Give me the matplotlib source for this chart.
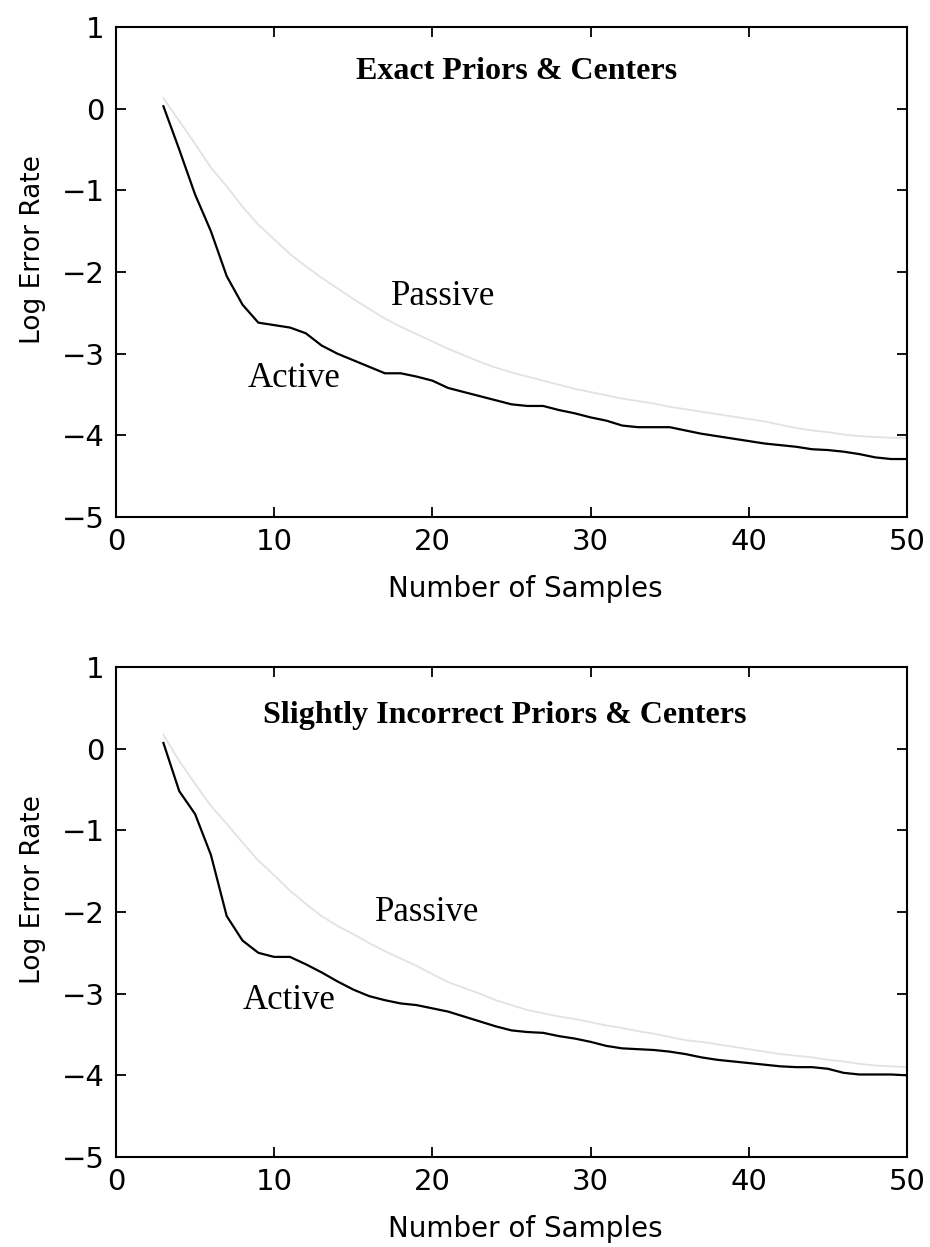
import matplotlib
matplotlib.use('Agg')
from matplotlib import pyplot as plt

# samples 3..50
samples = list(range(3, 51))

top_active = [0.03, -0.50, -1.05, -1.50, -2.05, -2.40, -2.62, -2.65, -2.68, -2.75,
              -2.90, -3.00, -3.08, -3.16, -3.24, -3.24, -3.28, -3.33, -3.42, -3.47,
              -3.52, -3.57, -3.62, -3.64, -3.64, -3.69, -3.73, -3.78, -3.82, -3.88,
              -3.90, -3.90, -3.90, -3.94, -3.98, -4.01, -4.04, -4.07, -4.10, -4.12,
              -4.14, -4.17, -4.18, -4.20, -4.23, -4.27, -4.29, -4.29]
top_passive = [0.13, -0.15, -0.43, -0.72, -0.95, -1.20, -1.42, -1.60, -1.78, -1.93,
               -2.07, -2.20, -2.33, -2.45, -2.57, -2.67, -2.76, -2.85, -2.94, -3.02,
               -3.10, -3.17, -3.23, -3.28, -3.33, -3.38, -3.43, -3.47, -3.51, -3.55,
               -3.58, -3.61, -3.65, -3.68, -3.71, -3.74, -3.77, -3.80, -3.83, -3.87,
               -3.91, -3.94, -3.96, -3.99, -4.01, -4.02, -4.03, -4.03]

bot_active = [0.07, -0.52, -0.80, -1.30, -2.05, -2.35, -2.50, -2.55, -2.55, -2.64,
              -2.74, -2.85, -2.95, -3.03, -3.08, -3.12, -3.14, -3.18, -3.22, -3.28,
              -3.34, -3.40, -3.45, -3.47, -3.48, -3.52, -3.55, -3.59, -3.64, -3.67,
              -3.68, -3.69, -3.71, -3.74, -3.78, -3.81, -3.83, -3.85, -3.87, -3.89,
              -3.90, -3.90, -3.92, -3.97, -3.99, -3.99, -3.99, -4.00]
bot_passive = [0.17, -0.15, -0.43, -0.70, -0.92, -1.15, -1.37, -1.55, -1.74, -1.90,
               -2.05, -2.17, -2.27, -2.38, -2.48, -2.57, -2.66, -2.76, -2.86, -2.93,
               -3.00, -3.08, -3.14, -3.20, -3.24, -3.28, -3.31, -3.35, -3.39, -3.42,
               -3.46, -3.49, -3.53, -3.57, -3.59, -3.62, -3.65, -3.68, -3.71, -3.74,
               -3.76, -3.78, -3.81, -3.83, -3.86, -3.88, -3.89, -3.90]

titles = ['Exact Priors & Centers', 'Slightly Incorrect Priors & Centers']
# title / label positions in data coords
title_pos = [(25.3, 0.45), (24.6, 0.41)]
passive_pos = [(17.4, -2.30), (16.4, -2.01)]
active_pos = [(8.3, -3.30), (8.0, -3.08)]

xticks = [0, 10, 20, 30, 40, 50]
yticks = [-5, -4, -3, -2, -1, 0, 1]

sans = ['DejaVu Sans Condensed', 'DejaVu Sans']
serif = 'Liberation Serif'

fig = plt.figure(figsize=(9.3, 12.47), dpi=100)
rects = [[0.1247, 0.5854, 0.8505, 0.3929], [0.1247, 0.0722, 0.8505, 0.3929]]
data = [(top_active, top_passive), (bot_active, bot_passive)]

for i in range(2):
    ax = fig.add_axes(rects[i])
    act, pas = data[i]
    ax.plot(samples, pas, color='#e2e2e2', lw=1.3)
    ax.plot(samples, act, color='black', lw=1.6)
    ax.set_xlim(0, 50)
    ax.set_ylim(-5, 1)
    ax.set_xticks(xticks)
    ax.set_yticks(yticks)
    ax.set_yticklabels(['\u22125', '\u22124', '\u22123', '\u22122', '\u22121', '0', '1'])
    ax.tick_params(direction='in', top=True, right=True, length=7, width=1.3,
                   labelsize=21, pad=8)
    for lab in ax.get_xticklabels() + ax.get_yticklabels():
        lab.set_family(sans)
    for s in ax.spines.values():
        s.set_linewidth(1.5)
    ax.set_xlabel('Number of Samples', family=sans, fontsize=20)
    ax.set_ylabel('Log Error Rate', family=sans, fontsize=19)
    ax.xaxis.set_label_coords(0.518, -0.118)
    ax.yaxis.set_label_coords(-0.088, 0.545)
    ax.text(title_pos[i][0], title_pos[i][1], titles[i], family=serif,
            fontweight='bold', fontsize=23, ha='center', va='center')
    ax.text(passive_pos[i][0], passive_pos[i][1], 'Passive', family=serif,
            fontsize=25, ha='left', va='center')
    ax.text(active_pos[i][0], active_pos[i][1], 'Active', family=serif,
            fontsize=25, ha='left', va='center')

plt.savefig('out.png', dpi=100)
